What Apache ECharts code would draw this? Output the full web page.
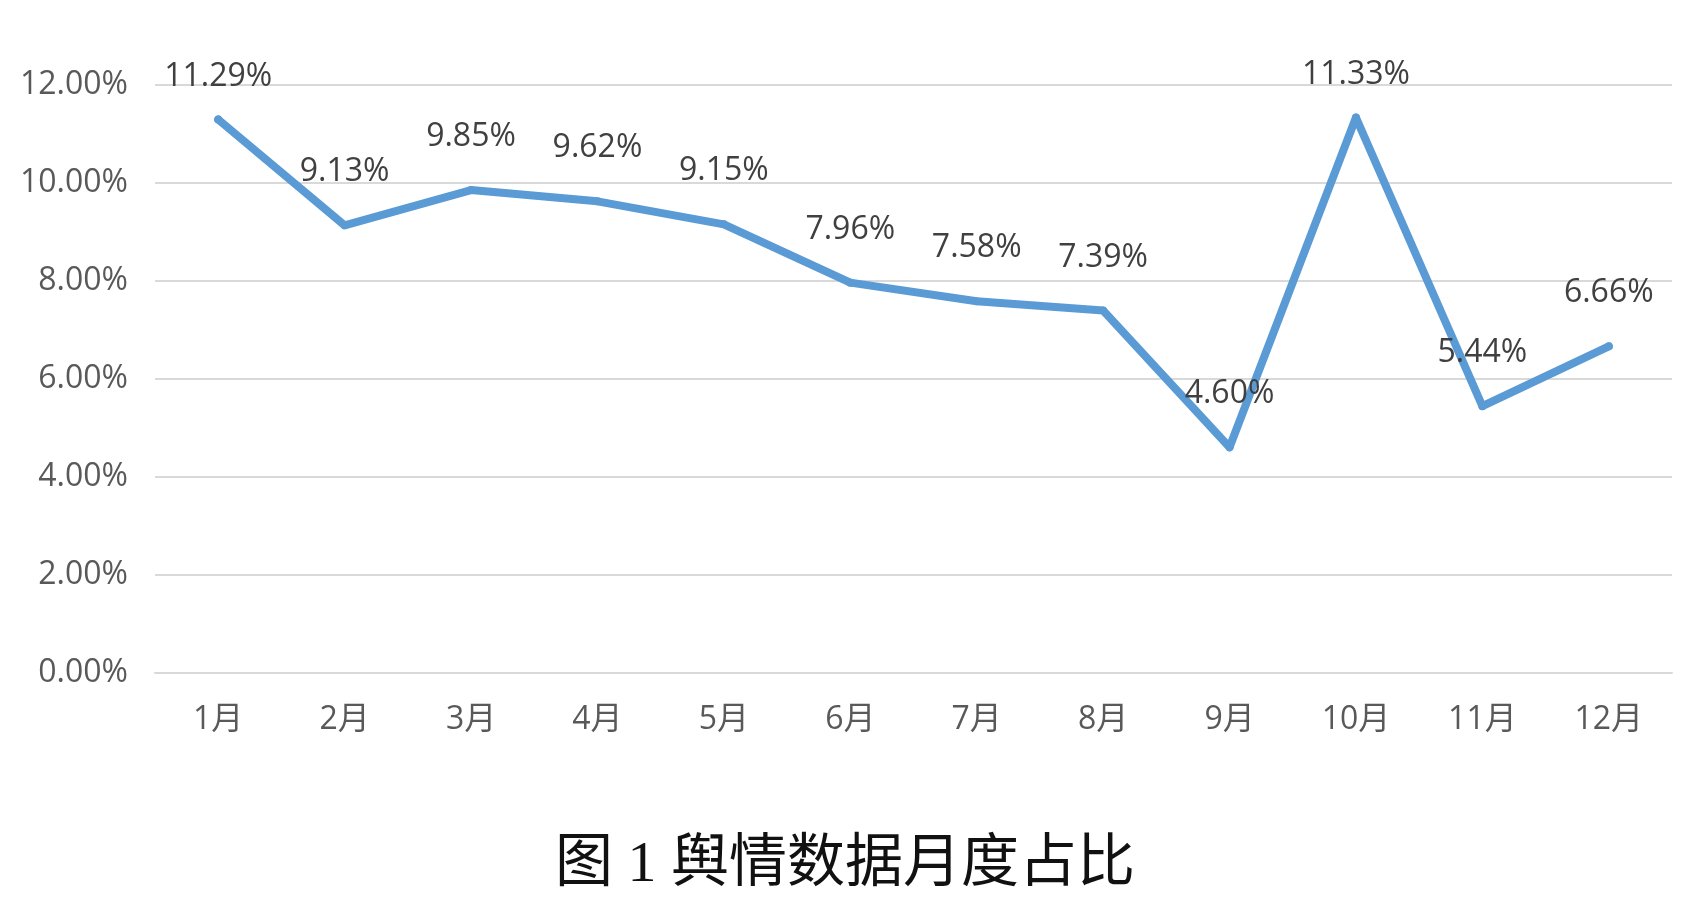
<!DOCTYPE html>
<html>
<head>
<meta charset="utf-8">
<script src="https://cdn.jsdelivr.net/npm/echarts@6/dist/echarts.min.js"></script>
<style>
html,body{margin:0;padding:0;background:#fff;}
#chart{width:1690px;height:897px;}
</style>
</head>
<body>
<div id="chart"></div>
<script>
const categories = ['1月','2月','3月','4月','5月','6月','7月','8月','9月','10月','11月','12月'];
const shares = [11.29, 9.13, 9.85, 9.62, 9.15, 7.96, 7.58, 7.39, 4.60, 11.33, 5.44, 6.66];
const yTicks = [0, 2, 4, 6, 8, 10, 12];
const titleText = '图 1 舆情数据月度占比';

const latin = "'Open Sans', 'Noto Sans CJK SC', sans-serif";
const chart = echarts.init(document.getElementById('chart'));

const seriesData = shares.map(v => {
  const item = { value: v };
  if (v > 11) item.label = { distance: 23 };
  return item;
});

chart.setOption({
  backgroundColor: '#ffffff',
  animation: false,
  title: {
    text: titleText,
    left: 'center',
    top: 832,
    textStyle: {
      fontFamily: "'Liberation Serif', 'Noto Sans CJK SC', serif",
      fontSize: 58,
      fontWeight: 'normal',
      color: '#111111'
    }
  },
  grid: { left: 155, right: 18, top: 84.7, bottom: 224.3, containLabel: false },
  xAxis: {
    type: 'category',
    data: categories,
    boundaryGap: true,
    axisLine: { show: true, lineStyle: { color: '#d9d9d9', width: 2 } },
    axisTick: { show: false },
    axisLabel: { margin: 31, color: '#595959', fontSize: 32, fontFamily: latin }
  },
  yAxis: {
    type: 'value',
    min: yTicks[0],
    max: yTicks[yTicks.length - 1],
    interval: 2,
    axisLine: { show: false },
    axisTick: { show: false },
    splitLine: { show: true, lineStyle: { color: '#d9d9d9', width: 2 } },
    axisLabel: {
      margin: 27,
      color: '#595959',
      fontSize: 32,
      fontFamily: latin,
      formatter: v => v.toFixed(2) + '%'
    }
  },
  series: [{
    type: 'line',
    data: seriesData,
    symbol: 'circle',
    symbolSize: 8,
    itemStyle: { color: '#5b9bd5' },
    lineStyle: { color: '#5b9bd5', width: 8, cap: 'round', join: 'round' },
    label: {
      show: true,
      position: 'top',
      distance: 33,
      color: '#404040',
      fontSize: 32,
      fontFamily: latin,
      formatter: p => p.value.toFixed(2) + '%'
    },
    z: 3
  }]
});
</script>
</body>
</html>
